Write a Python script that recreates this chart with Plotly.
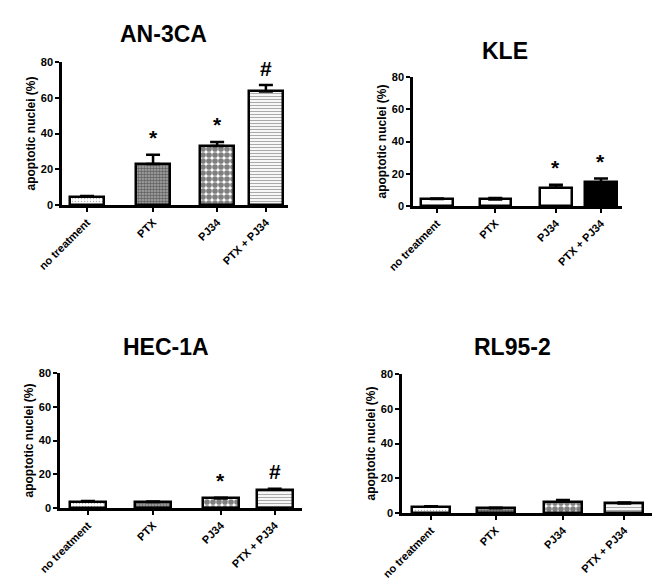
import plotly.graph_objects as go

# page has an 8px body margin; figure is sized to fill the rest
OFF = 8
W, H = 669 - OFF, 584 - OFF

categories = ["no treatment", "PTX", "PJ34", "PTX + PJ34"]
panel_titles = ["AN-3CA", "KLE", "HEC-1A", "RL95-2"]

an3ca_mean = [4.6, 22.9, 33.0, 63.5]
an3ca_err = [0.4, 5.2, 2.3, 3.6]
an3ca_marks = ["", "*", "*", "#"]

kle_mean = [4.3, 4.1, 11.4, 14.8]
kle_err = [0.4, 0.9, 1.8, 2.3]
kle_marks = ["", "", "*", "*"]

hec1a_mean = [3.8, 3.5, 5.7, 10.9]
hec1a_err = [0.3, 0.3, 0.4, 0.5]
hec1a_marks = ["", "", "*", "#"]

rl952_mean = [3.6, 2.8, 6.5, 5.5]
rl952_err = [0.3, 0.2, 1.0, 0.5]
rl952_marks = ["", "", "", ""]

y_ticks = [0, 20, 40, 60, 80]

# ---- layout / style (not data) ----
FONT = "Liberation Sans"
panels = [
    dict(mean=an3ca_mean, err=an3ca_err, marks=an3ca_marks,
         px=(62, 288), py=(62, 205), pos=[0, 1.015, 2.0, 2.75], xr=(-0.385, 3.09), bw=0.52,
         title_xy=(163, 34), fills="pattern"),
    dict(mean=kle_mean, err=kle_err, marks=kle_marks,
         px=(413, 622), py=(77, 206), pos=[0, 0.97, 1.98, 2.73], xr=(-0.4, 3.08), bw=0.52,
         title_xy=(505, 51), fills="kle"),
    dict(mean=hec1a_mean, err=hec1a_err, marks=hec1a_marks,
         px=(60, 302), py=(373, 508), pos=[0, 0.98, 2.0, 2.81], xr=(-0.42, 3.22), bw=0.54,
         title_xy=(166, 347), fills="pattern"),
    dict(mean=rl952_mean, err=rl952_err, marks=rl952_marks,
         px=(402, 652), py=(374, 513), pos=[0, 0.98, 2.0, 2.93], xr=(-0.44, 3.35), bw=0.58,
         title_xy=(512, 347), fills="pattern"),
]

patterns = [
    dict(shape=".", fgcolor="#666666", bgcolor="white", size=3, solidity=0.2),
    dict(shape=".", fgcolor="#1a1a1a", bgcolor="#aaaaaa", size=3, solidity=0.55),
    dict(shape=".", fgcolor="black", bgcolor="white", size=6, solidity=0.7),
    dict(shape="-", fgcolor="#555555", bgcolor="white", size=3, solidity=0.4),
]


def px2x(v):
    return (v - OFF) / W


def py2y(v):
    return 1 - (v - OFF) / H


fig = go.Figure()
layout = dict(width=W, height=H, margin=dict(l=0, r=0, t=0, b=0),
              paper_bgcolor="white", plot_bgcolor="white", showlegend=False,
              bargap=0, annotations=[])

for i, p in enumerate(panels):
    n = "" if i == 0 else str(i + 1)
    xa, ya = "x" + n, "y" + n
    for j, cat in enumerate(categories):
        if p["fills"] == "kle":
            mk = dict(color="black" if j == 3 else "white",
                      line=dict(color="black", width=2.5))
        else:
            mk = dict(color="white", pattern=patterns[j],
                      line=dict(color="black", width=2.5))
        fig.add_trace(go.Bar(
            x=[p["pos"][j]], y=[p["mean"][j]], width=p["bw"], marker=mk,
            error_y=dict(type="data", array=[p["err"][j]], arrayminus=[0],
                         symmetric=False, color="black", thickness=2.5, width=7),
            xaxis=xa, yaxis=ya, hoverinfo="skip"))
        if p["marks"][j]:
            layout["annotations"].append(dict(
                x=p["pos"][j], y=p["mean"][j] + p["err"][j], xref=xa, yref=ya,
                xanchor="center", yanchor="middle",
                text="<b>%s</b>" % p["marks"][j], showarrow=False, yshift=17,
                font=dict(family=FONT, size=21, color="black")))
    x0, x1 = p["px"]
    y0, y1 = p["py"]
    layout["xaxis" + n] = dict(
        domain=[px2x(x0), px2x(x1)], anchor=ya, range=list(p["xr"]),
        tickmode="array", tickvals=p["pos"], ticktext=categories, tickangle=-45,
        ticks="outside", ticklen=4, tickwidth=2, tickcolor="black",
        showline=True, linecolor="black", linewidth=2.5, showgrid=False, zeroline=False,
        tickfont=dict(family=FONT, size=11, color="black", weight="bold"),
        automargin=False, fixedrange=True)
    layout["yaxis" + n] = dict(
        domain=[py2y(y1), py2y(y0)], anchor=xa, range=[0, 80],
        tickmode="array", tickvals=y_ticks,
        ticks="outside", ticklen=4, tickwidth=2, tickcolor="black",
        showline=True, linecolor="black", linewidth=2.5, showgrid=False, zeroline=False,
        tickfont=dict(family=FONT, size=11, color="black", weight="bold"),
        title=dict(text="apoptotic nuclei (%)", standoff=3,
                   font=dict(family=FONT, size=12, color="black", weight="bold")),
        automargin=False, fixedrange=True)
    tx, ty = p["title_xy"]
    layout["annotations"].append(dict(
        x=px2x(tx), y=py2y(ty), xref="paper", yref="paper", showarrow=False,
        xanchor="center", yanchor="middle",
        text="<b>%s</b>" % panel_titles[i],
        font=dict(family=FONT, size=23, color="black")))

fig.update_layout(**layout)
fig.write_html("out.html")
